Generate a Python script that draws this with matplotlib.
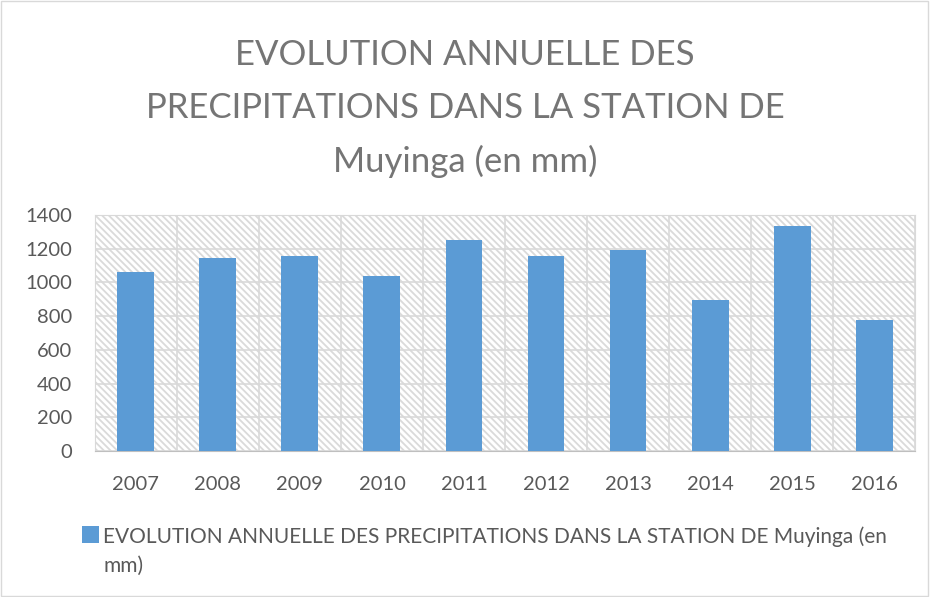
#!/usr/bin/env python3

import numpy as np
import matplotlib
matplotlib.use('Agg')
import matplotlib.pyplot as plt
from matplotlib.patches import Rectangle

years = ['2007', '2008', '2009', '2010', '2011', '2012', '2013', '2014', '2015', '2016']
rain = [1062, 1145, 1157, 1038, 1252, 1155, 1190, 897, 1335, 778]

titleStr = "EVOLUTION ANNUELLE DES\nPRECIPITATIONS DANS LA STATION DE\nMuyinga (en mm)"
legendStr = "EVOLUTION ANNUELLE DES PRECIPITATIONS DANS LA STATION DE Muyinga (en\nmm)"

textCol = '#595959'
titleCol = '#757575'
barCol = '#5B9BD5'
gridCol = '#d9d9d9'

plt.rcParams['font.family'] = ['Lato', 'DejaVu Sans']
plt.rcParams['hatch.linewidth'] = 1.3
plt.rcParams['hatch.color'] = '#dadada'

fig = plt.figure(figsize=(9.3, 5.97), dpi=100)
ax = fig.add_axes([0.102, 0.2446, 0.882, 0.3954])

# hatched plot area like the excel chart
ax.patch.set_facecolor('white')
ax.patch.set_hatch('\\\\\\\\\\')
ax.patch.set_edgecolor('#dadada')

x = np.arange(len(years))
ax.bar(x, rain, width=0.45, color=barCol, zorder=3)

ax.set_xlim(-0.5, len(years) - 0.5)
ax.set_ylim(0, 1400)
ax.set_yticks(range(0, 1401, 200))
ax.set_xticks(x)
ax.set_xticklabels(years)
ax.set_xticks(np.arange(-0.5, len(years), 0.5), minor=True)
ax.grid(True, axis='y', color=gridCol, linewidth=1.2, zorder=1)
ax.grid(True, axis='x', which='minor', color=gridCol, linewidth=1.2, zorder=1)
ax.tick_params(axis='both', which='both', length=0, labelsize=14.5, colors=textCol)
ax.tick_params(axis='x', pad=18)
ax.tick_params(axis='y', pad=16.5)
for s in ['top', 'right', 'left']:
    ax.spines[s].set_color(gridCol)
ax.spines['bottom'].set_color('#bfbfbf')

fig.text(0.5, 0.818, titleStr, ha='center', va='center', fontsize=25,
         color=titleCol, linespacing=1.78)

# legend drawn by hand so the text wraps like the original
fig.patches.append(Rectangle((0.0882, 0.0905), 0.0183, 0.0285, transform=fig.transFigure,
                             facecolor=barCol, edgecolor='none'))
fig.text(0.1108, 0.118, legendStr, ha='left', va='top', fontsize=15,
         color=textCol, linespacing=1.55)
# outer frame of the chart
fig.patches.append(Rectangle((0.001, 0.001), 0.997, 0.997, transform=fig.transFigure,
                             facecolor='none', edgecolor='#d9d9d9', linewidth=1))

fig.savefig('out.png')
